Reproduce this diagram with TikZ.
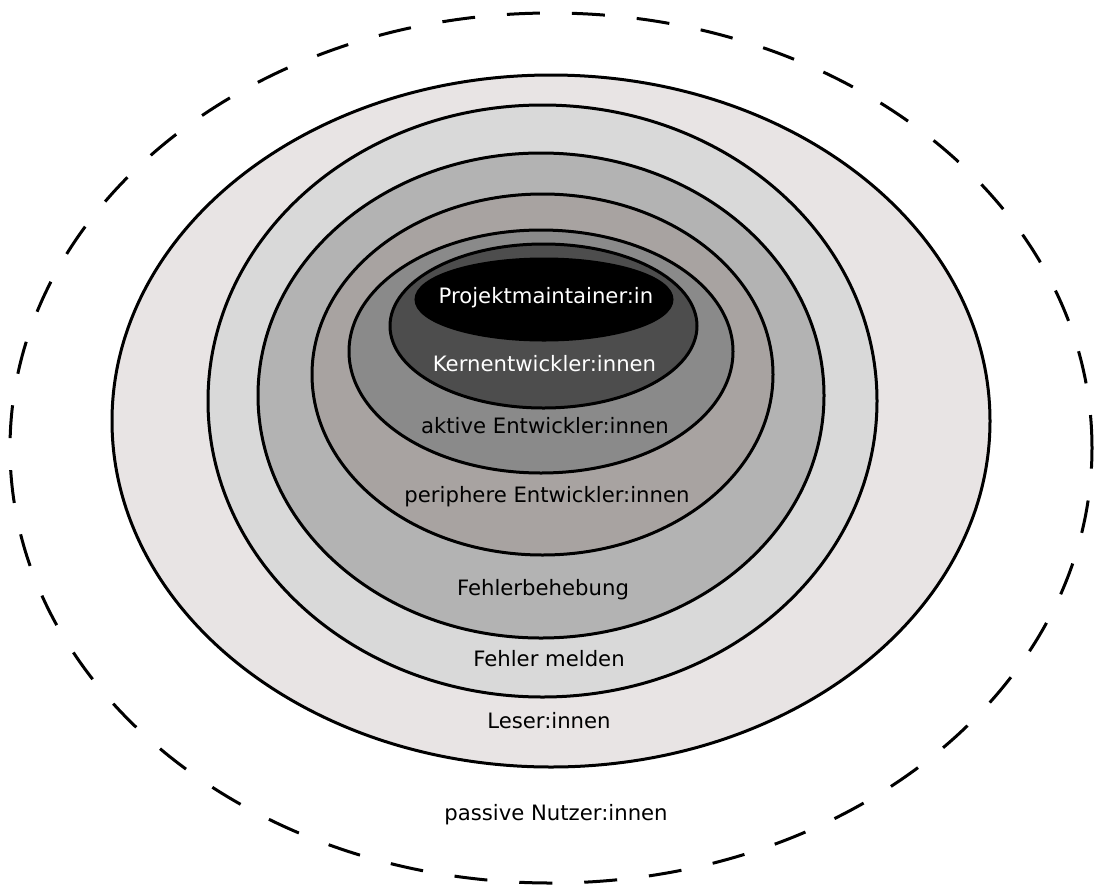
\documentclass[tikz,border=0pt]{standalone}
\usepackage{fontspec}
\setmainfont{DejaVu Sans}
\definecolor{ringA}{HTML}{E8E4E4}
\definecolor{ringB}{HTML}{D9D9D9}
\definecolor{ringC}{HTML}{B3B3B3}
\definecolor{ringD}{HTML}{A8A3A1}
\definecolor{ringE}{HTML}{8A8A8A}
\definecolor{ringF}{HTML}{4D4D4D}
\begin{document}
\begin{tikzpicture}[x=1pt,y=-1pt,
  ring/.style={draw=black,line width=3pt},
  outerring/.style={draw=black,line width=3pt,dash pattern=on 33pt off 32pt},
  lbl/.style={font=\fontsize{21.2pt}{24pt}\selectfont,inner sep=0pt,anchor=center},
  wlbl/.style={lbl,text=white}]
\useasboundingbox (0,0) rectangle (1095,887);
% concentric participation rings, outermost first
\draw[outerring] (551,448) ellipse [x radius=541pt, y radius=435pt];
\draw[ring,fill=ringA] (551,421) ellipse [x radius=439pt, y radius=346pt];
\draw[ring,fill=ringB] (542.5,401) ellipse [x radius=334.5pt, y radius=296pt];
\draw[ring,fill=ringC] (541,395.5) ellipse [x radius=283pt, y radius=242.5pt];
\draw[ring,fill=ringD] (542.5,374.5) ellipse [x radius=230.5pt, y radius=180.5pt];
\draw[ring,fill=ringE] (541,351.5) ellipse [x radius=192pt, y radius=121.5pt];
\draw[ring,fill=ringF] (543.5,326) ellipse [x radius=153.5pt, y radius=82pt];
\draw[ring,fill=black] (544,299.5) ellipse [x radius=128pt, y radius=40.5pt];
% role labels
\node[wlbl] (pm)   at (546,298) {Projektmaintainer:in};
\node[wlbl] (kern) at (544.5,364) {Kernentwickler:innen};
\node[lbl]  (akt)  at (545,426) {aktive Entwickler:innen};
\node[lbl]  (peri) at (547,497) {periphere Entwickler:innen};
\node[lbl]  (fix)  at (543,590) {Fehlerbehebung};
\node[lbl]  (bug)  at (549,659) {Fehler melden};
\node[lbl]  (les)  at (549,721) {Leser:innen};
\node[lbl]  (pas)  at (556,815) {passive Nutzer:innen};
\end{tikzpicture}
\end{document}
